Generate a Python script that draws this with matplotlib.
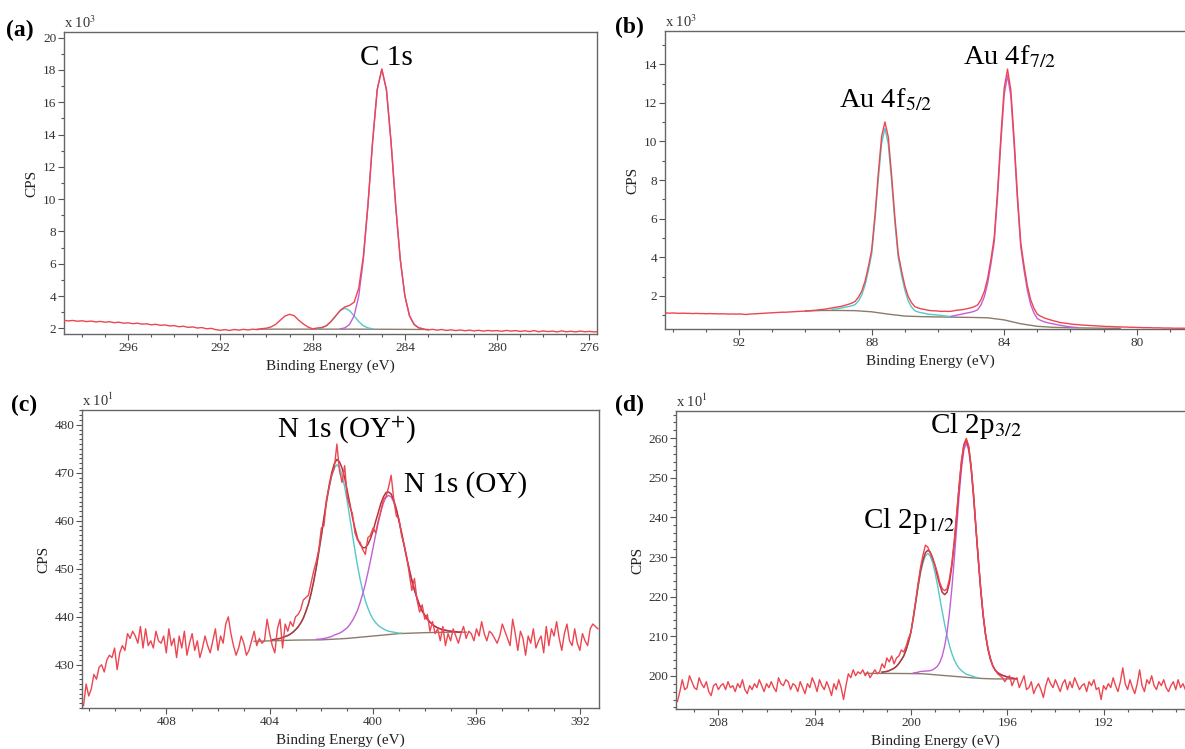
import matplotlib
matplotlib.use("Agg")
import matplotlib.pyplot as plt
import numpy as np
from matplotlib.ticker import MultipleLocator

plt.rcParams['font.family'] = ['Liberation Serif', 'DejaVu Serif']
plt.rcParams['mathtext.fontset'] = 'stix'

# colours used by the fitting software
RAW = '#ec4650'
ENV = '#b8323c'
CYAN = '#55c8c8'
MAG = '#c35fd6'
BGC = '#8c7b6b'

# ---------------- (a) C 1s  (x10^3 CPS), 0.2 eV steps ----------------
a_start, a_step = 298.8, 0.2
a_raw = [2.50, 2.46, 2.49, 2.44, 2.47, 2.42, 2.45, 2.40, 2.43, 2.38,
         2.41, 2.35, 2.38, 2.32, 2.34, 2.29, 2.32, 2.26, 2.28, 2.22,
         2.25, 2.19, 2.21, 2.15, 2.17, 2.10, 2.13, 2.06, 2.09, 2.02,
         2.05, 1.97, 2.00, 1.92, 1.88, 1.92, 1.87, 1.93, 1.89, 1.94,
         1.90, 1.95, 1.92, 1.98, 2.01, 2.09, 2.25, 2.51, 2.76, 2.87,
         2.78, 2.50, 2.27, 2.08, 1.97, 2.02, 2.05, 2.17, 2.43, 2.77,
         3.12, 3.33, 3.42, 3.62, 4.49, 6.47, 9.70, 13.56, 16.78, 18.05,
         16.78, 13.54, 9.62, 6.26, 4.01, 2.78, 2.24, 2.03, 1.96, 1.90,
         1.94, 1.89, 1.93, 1.87, 1.91, 1.86, 1.90, 1.85, 1.89, 1.84,
         1.88, 1.83, 1.87, 1.84, 1.86, 1.82, 1.87, 1.83, 1.86, 1.81,
         1.85, 1.80, 1.86, 1.79, 1.84, 1.80, 1.83, 1.78, 1.84, 1.79,
         1.82, 1.78, 1.83, 1.79, 1.81, 1.78, 1.80]
a_cyan_start = 287.8
a_cyan = [1.97, 2.03, 2.16, 2.42, 2.77, 3.10, 3.25, 3.10, 2.77, 2.42, 2.16, 2.03, 1.97]
a_mag_start = 286.8
a_mag = [1.97, 2.03, 2.24, 2.78, 4.01, 6.26, 9.62, 13.54, 16.78, 18.05,
         16.78, 13.54, 9.62, 6.26, 4.01, 2.78, 2.24, 2.03, 1.97]
a_bg_be = [290.4, 286.0, 283.0]
a_bg = [1.95, 1.95, 1.93]

# ---------------- (b) Au 4f  (x10^3 CPS), 0.1 eV steps ----------------
b_start, b_step = 94.2, 0.1
b_raw = [1.12, 1.11, 1.12, 1.11, 1.10, 1.11, 1.10, 1.10, 1.09, 1.10,
         1.09, 1.09, 1.08, 1.09, 1.08, 1.08, 1.07, 1.08, 1.07, 1.06,
         1.07, 1.06, 1.07, 1.06, 1.04, 1.06, 1.07, 1.08, 1.09, 1.10,
         1.11, 1.12, 1.13, 1.14, 1.15, 1.16, 1.16, 1.17, 1.18, 1.19,
         1.20, 1.21, 1.22, 1.23, 1.25, 1.26, 1.28, 1.30, 1.32, 1.35,
         1.38, 1.41, 1.44, 1.47, 1.52, 1.57, 1.63, 1.72, 1.94, 2.25,
         2.77, 3.52, 4.39, 6.21, 8.36, 10.27, 11.01, 10.23, 8.27, 6.07,
         4.21, 3.31, 2.53, 1.98, 1.66, 1.45, 1.38, 1.33, 1.30, 1.26,
         1.24, 1.23, 1.22, 1.20, 1.21, 1.20, 1.21, 1.24, 1.27, 1.28,
         1.31, 1.35, 1.39, 1.45, 1.54, 1.81, 2.23, 2.91, 3.90, 5.05,
         7.44, 10.27, 12.76, 13.75, 12.67, 10.11, 7.21, 4.76, 3.56, 2.52,
         1.80, 1.35, 1.06, 0.95, 0.87, 0.81, 0.76, 0.71, 0.67, 0.62,
         0.60, 0.58, 0.55, 0.53, 0.52, 0.50, 0.49, 0.48, 0.47, 0.46,
         0.45, 0.44, 0.43, 0.42, 0.42, 0.41, 0.40, 0.40, 0.39, 0.39,
         0.38, 0.38, 0.37, 0.37, 0.36, 0.36, 0.36, 0.35, 0.35, 0.35,
         0.34, 0.34, 0.34, 0.33, 0.33, 0.33, 0.33, 0.33]
b_cyan_start = 89.2
b_cyan = [1.30, 1.32, 1.35, 1.38, 1.42, 1.45, 1.49, 1.55, 1.74, 2.05,
          2.57, 3.31, 4.18, 5.96, 8.06, 9.91, 10.68, 9.87, 7.96, 5.81,
          3.99, 3.08, 2.31, 1.76, 1.43, 1.24, 1.17, 1.13, 1.10, 1.06,
          1.04, 1.03, 1.01, 0.99, 0.97, 0.95, 0.93, 0.92]
b_mag_start = 85.6
b_mag = [0.95, 0.98, 1.02, 1.05, 1.09, 1.125, 1.16, 1.21, 1.29, 1.54,
         1.96, 2.65, 3.65, 4.80, 7.17, 9.96, 12.42, 13.42, 12.34, 9.81,
         6.95, 4.52, 3.32, 2.28, 1.55, 1.11, 0.83, 0.735, 0.67, 0.62,
         0.58, 0.55, 0.51, 0.48, 0.45, 0.42, 0.40, 0.38, 0.37]
b_bg_be = [90.0, 89.5, 89.0, 88.5, 88.0, 87.5, 87.0, 86.5, 86.0, 85.5,
           85.0, 84.5, 84.0, 83.5, 83.0, 82.5, 82.0, 81.0, 80.5]
b_bg = [1.22, 1.25, 1.25, 1.24, 1.18, 1.06, 0.96, 0.93, 0.915, 0.90,
        0.89, 0.87, 0.76, 0.56, 0.43, 0.375, 0.355, 0.33, 0.325]

# ---------------- (c) N 1s  (x10^1 CPS), 0.1 eV steps ----------------
c_start, c_step = 411.2, 0.1
c_raw = [421.5, 426.0, 423.5, 425.0, 428.0, 427.0, 429.5, 430.0, 428.5, 431.0,
         432.0, 431.5, 433.5, 429.0, 432.5, 434.0, 433.0, 436.5, 435.5, 437.0,
         436.0, 434.5, 438.0, 433.5, 437.5, 434.0, 435.0, 433.5, 437.0, 435.0,
         434.5, 436.0, 432.5, 437.5, 434.0, 435.5, 431.5, 436.0, 433.5, 437.0,
         432.0, 434.5, 436.5, 433.0, 435.0, 431.5, 433.5, 436.0, 434.0, 432.5,
         435.0, 437.5, 433.0, 436.0, 434.5, 438.5, 440.0, 436.5, 434.0, 432.0,
         433.5, 436.0, 434.5, 432.0, 433.0, 435.0, 437.0, 434.0, 435.5, 434.5,
         435.0, 439.5, 436.5, 434.0, 432.5, 437.5, 439.5, 433.5, 438.5, 437.0,
         439.0, 438.0, 440.0, 440.5, 441.5, 443.5, 444.0, 444.5, 447.0, 449.5,
         451.5, 454.0, 458.5, 459.0, 464.5, 467.0, 469.5, 471.0, 476.0, 470.5,
         468.0, 471.5, 465.0, 463.0, 461.5, 457.5, 456.0, 455.5, 454.0, 453.0,
         456.5, 457.0, 458.5, 457.5, 460.0, 462.0, 464.5, 465.0, 467.0, 469.5,
         464.5, 461.0, 460.5, 457.0, 455.0, 452.5, 449.0, 445.5, 448.0, 443.5,
         441.0, 442.5, 439.5, 440.5, 437.0, 439.0, 436.5, 437.5, 435.0, 438.0,
         434.0, 436.5, 435.0, 437.5, 436.0, 434.5, 436.5, 438.0, 435.5, 437.0,
         436.5, 435.0, 437.5, 436.0, 439.0, 436.5, 435.0, 437.0, 436.5, 435.5,
         434.5, 436.0, 438.5, 437.0, 435.5, 434.0, 439.5, 436.5, 433.0, 437.0,
         435.5, 432.0, 436.0, 434.5, 437.5, 433.5, 435.0, 436.0, 432.5, 438.0,
         434.0, 437.5, 436.0, 439.0, 435.5, 433.0, 436.5, 438.5, 435.0, 434.0,
         437.5, 434.5, 433.0, 436.5, 435.0, 434.0, 437.5, 438.5, 438.0, 437.5]
c_env_start = 403.9
c_env = [435.2, 435.3, 435.4, 435.5, 435.7, 435.9, 436.1, 436.4, 436.8, 437.3,
         437.9, 438.7, 439.7, 441.1, 442.7, 444.8, 447.3, 450.2, 453.6, 457.0,
         460.7, 464.2, 467.4, 470.0, 471.9, 472.8, 472.3, 471.0, 469.0, 466.3,
         463.6, 460.8, 458.4, 456.3, 455.1, 454.4, 454.4, 455.1, 456.3, 457.9,
         459.9, 461.7, 463.6, 465.0, 465.9, 466.0, 465.6, 464.3, 462.5, 460.1,
         457.6, 455.0, 452.3, 449.9, 447.6, 445.6, 443.9, 442.4, 441.2, 440.3,
         439.5, 438.9, 438.4, 438.0, 437.7, 437.5, 437.3, 437.2, 437.1, 437.0,
         436.9, 436.9, 436.8, 436.8]
c_cyan_start = 403.9
c_cyan = [435.2, 435.3, 435.4, 435.5, 435.7, 435.9, 436.1, 436.4, 436.8, 437.3,
          437.9, 438.7, 439.7, 441.1, 442.7, 444.8, 447.3, 450.1, 453.4, 456.8,
          460.4, 463.8, 466.9, 469.4, 471.0, 471.7, 471.1, 469.5, 467.1, 464.1,
          460.7, 457.2, 453.8, 450.6, 447.8, 445.4, 443.4, 441.8, 440.5, 439.5,
          438.8, 438.2, 437.8, 437.5, 437.2, 437.0, 436.9, 436.8, 436.7, 436.6,
          436.6]
c_mag_start = 402.2
c_mag = [435.3, 435.35, 435.4, 435.5, 435.6, 435.75, 435.9, 436.2, 436.4, 436.6,
         436.9, 437.3, 437.7, 438.4, 439.2, 440.2, 441.4, 443.0, 444.8, 446.8,
         449.2, 451.7, 454.4, 457.1, 459.6, 461.9, 463.7, 464.9, 465.3, 465.0,
         463.9, 462.2, 460.0, 457.5, 454.9, 452.3, 449.9, 447.6, 445.6, 443.9,
         442.4, 441.2, 440.3, 439.5, 438.9, 438.4, 438.0, 437.7, 437.5, 437.3,
         437.2, 437.1, 437.0, 436.9, 436.9, 436.8, 436.8]
c_bg_be = [404.6, 403.0, 402.0, 401.0, 400.0, 399.0, 398.0, 397.0, 396.4]
c_bg = [434.9, 435.15, 435.2, 435.5, 436.0, 436.5, 436.7, 436.8, 436.8]

# ---------------- (d) Cl 2p  (x10^1 CPS), 0.1 eV steps ----------------
d_start, d_step = 209.7, 0.1
d_raw = [193.5, 196.0, 199.0, 196.5, 197.0, 200.0, 198.5, 197.0, 196.5, 199.5,
         198.0, 197.0, 198.5, 196.0, 195.0, 197.5, 198.0, 196.5, 197.5, 198.0,
         196.5, 198.5, 197.0, 197.5, 196.0, 198.0, 197.0, 199.0, 196.5, 195.5,
         197.5, 196.5, 198.0, 197.0, 199.0, 197.5, 196.0, 198.0, 197.0, 198.5,
         197.0, 196.0, 199.5, 198.0, 197.5, 199.0, 198.5, 196.5, 198.0, 197.5,
         196.0, 198.5, 197.0, 195.5, 198.0, 197.0, 199.5, 198.0, 196.0, 199.0,
         197.5, 196.5, 198.5, 197.0, 195.0, 198.0, 196.5, 199.0, 197.0, 194.0,
         197.5, 200.5, 199.5, 201.5, 200.0, 201.0, 200.5, 201.5, 200.0, 201.0,
         199.5, 200.5, 201.5, 200.5, 201.0, 203.0, 202.0, 204.5, 203.5, 205.0,
         203.0, 204.5, 205.0, 206.5, 206.0, 207.5, 209.5, 211.0, 215.0, 219.0,
         223.5, 227.5, 230.5, 233.0, 232.5, 231.0, 229.5, 228.0, 226.0, 223.5,
         222.0, 221.5, 222.0, 224.5, 228.5, 234.0, 241.0, 248.0, 254.5, 258.5,
         260.0, 258.0, 253.0, 246.0, 237.5, 229.5, 222.0, 215.5, 210.5, 207.0,
         204.5, 202.5, 201.5, 200.5, 200.0, 199.5, 198.5, 199.5, 200.0, 197.5,
         199.0, 199.5, 197.0, 198.5, 200.0, 196.5, 197.0, 198.5, 195.5, 197.0,
         198.0, 196.5, 194.5, 197.5, 199.5, 198.0, 197.0, 199.0, 197.5, 196.0,
         198.0, 199.0, 196.5, 198.5, 197.0, 199.5, 198.0, 196.5, 197.5, 198.0,
         196.0, 198.5, 197.5, 199.0, 196.5, 197.0, 194.0, 197.5, 196.5, 198.0,
         197.0, 199.5, 197.5, 196.0, 198.5, 202.0, 198.0, 196.5, 199.0, 197.0,
         195.5, 198.0, 201.5, 197.5, 196.0, 199.0, 198.0, 200.0, 197.5, 196.5,
         198.5, 197.5, 199.0, 197.0, 196.0, 197.5, 198.5, 196.5, 199.0, 197.0,
         198.0, 196.5, 198.0]
d_env_start = 201.2
d_env = [200.9, 201.0, 201.1, 201.3, 201.6, 201.9, 202.4, 203.1, 204.0, 205.0,
         206.6, 208.6, 211.1, 214.7, 218.8, 222.9, 226.6, 229.2, 231.1, 231.7,
         231.3, 229.8, 227.8, 225.2, 222.9, 221.1, 220.5, 221.1, 223.6, 227.8,
         233.7, 240.5, 247.7, 254.0, 258.3, 259.6, 257.7, 252.7, 245.6, 237.3,
         229.2, 221.6, 215.2, 210.3, 206.7, 204.2, 202.5, 201.4, 200.8, 200.4,
         200.1, 199.9, 199.7, 199.5, 199.4, 199.3, 199.2]
d_cyan_start = 201.2
d_cyan = [200.9, 201.0, 201.1, 201.3, 201.6, 201.9, 202.4, 203.1, 204.0, 205.0,
          206.5, 208.5, 211.0, 214.5, 218.5, 222.5, 226.0, 228.6, 230.3, 230.9,
          230.3, 228.6, 226.1, 223.0, 219.6, 216.2, 213.0, 210.1, 207.6, 205.6,
          204.0, 202.8, 201.9, 201.3, 200.8, 200.4, 200.2, 200.0, 199.8, 199.6,
          199.5]
d_mag_start = 199.9
d_mag = [200.7, 200.8, 200.9, 201.1, 201.1, 201.2, 201.2, 201.3, 201.5, 201.9,
         202.4, 203.4, 205.0, 207.5, 211.0, 215.9, 222.1, 229.5, 237.5, 245.5,
         252.4, 257.1, 258.8, 257.0, 252.2, 245.2, 237.1, 229.0, 221.5, 215.2,
         210.3, 206.7, 204.2, 202.5, 201.4, 200.8, 200.4, 200.1, 199.9, 199.7,
         199.5, 199.4, 199.3, 199.2]
d_bg_be = [201.9, 201.0, 200.0, 199.5, 199.0, 198.5, 198.0, 197.5, 197.0, 196.5, 195.6]
d_bg = [200.6, 200.6, 200.55, 200.5, 200.25, 200.0, 199.75, 199.5, 199.3, 199.2, 199.2]


def grid(start, step, vals):
    return start - step * np.arange(len(vals))


W, H = 1185, 749
fig = plt.figure(figsize=(W / 100, H / 100), dpi=100)


def panel(x0, y0, x1, y1):
    return fig.add_axes([x0 / W, 1 - y1 / H, (x1 - x0) / W, (y1 - y0) / H])


def style(ax, xlim, ylim, ymaj, ymin, mult, ylab_dx):
    ax.set_xlim(*xlim)
    ax.set_ylim(*ylim)
    ax.xaxis.set_major_locator(MultipleLocator(4))
    ax.xaxis.set_minor_locator(MultipleLocator(1))
    ax.yaxis.set_major_locator(MultipleLocator(ymaj))
    ax.yaxis.set_minor_locator(MultipleLocator(ymin))
    ax.tick_params(which='both', direction='out', color='#555555',
                   labelcolor='#333333', labelsize=9.5, width=0.8, pad=1.5)
    ax.tick_params(which='major', length=4)
    ax.tick_params(which='minor', length=2.5)
    for s in ax.spines.values():
        s.set_color('#666666')
        s.set_linewidth(1.0)
    h = ax.get_position().height * H
    w = ax.get_position().width * W
    ax.set_xlabel('Binding Energy (eV)', fontsize=11, color='#222222')
    ax.xaxis.set_label_coords(0.5, -26 / h)
    ax.set_ylabel('CPS', fontsize=11, color='#222222')
    ax.yaxis.set_label_coords(ylab_dx / w, 0.5)
    ax.text(0, 1.004, mult, transform=ax.transAxes, ha='left', va='bottom',
            fontsize=10.5, color='#333333')


def draw(ax, start, step, raw, comps, bg_be, bg, env=None):
    ax.plot(bg_be, bg, color=BGC, lw=1.0, zorder=2)
    for (s, vals), col in zip(comps, [CYAN, MAG]):
        ax.plot(grid(s, step, vals), vals, color=col, lw=1.0, zorder=3)
    if env is not None:
        ax.plot(grid(env[0], step, env[1]), env[1], color=ENV, lw=1.1, zorder=4)
    ax.plot(grid(start, step, raw), raw, color=RAW, lw=1.0, zorder=5)


# (a)
ax = panel(64, 32, 597, 334)
draw(ax, a_start, a_step, a_raw, [(a_cyan_start, a_cyan), (a_mag_start, a_mag)],
     a_bg_be, a_bg)
style(ax, (298.78, 275.67), (1.65, 20.35), 2, 1, 'x 10$^3$', -26)
ax.text(284.8, 18.3, 'C 1s', fontsize=21, ha='center', va='baseline')

# (b)
ax = panel(665, 31, 1195, 329)
draw(ax, b_start, b_step, b_raw, [(b_cyan_start, b_cyan), (b_mag_start, b_mag)],
     b_bg_be, b_bg)
style(ax, (94.24, 78.24), (0.29, 15.72), 2, 1, 'x 10$^3$', -25.5)
ax.text(85.23, 14.0, 'Au 4f$_{7/2}$', fontsize=20.5, ha='left', va='baseline')
ax.text(89.0, 11.77, 'Au 4f$_{5/2}$', fontsize=20.5, ha='left', va='baseline')

# (c)
ax = panel(82, 410, 599, 708)
draw(ax, c_start, c_step, c_raw, [(c_cyan_start, c_cyan), (c_mag_start, c_mag)],
     c_bg_be, c_bg, env=(c_env_start, c_env))
style(ax, (411.26, 391.26), (421.0, 483.1), 10, 1, 'x 10$^1$', -32)
ax.text(403.72, 477.4, 'N 1s (OY$^{+}$)', fontsize=21, ha='left', va='baseline')
ax.text(398.82, 466.0, 'N 1s (OY)', fontsize=21, ha='left', va='baseline')

# (d)
ax = panel(676, 411, 1195, 709)
draw(ax, d_start, d_step, d_raw, [(d_cyan_start, d_cyan), (d_mag_start, d_mag)],
     d_bg_be, d_bg, env=(d_env_start, d_env))
style(ax, (209.76, 188.2), (191.6, 266.9), 10, 2, 'x 10$^1$', -31.5)
ax.text(199.2, 261.3, 'Cl 2p$_{3/2}$', fontsize=21, ha='left', va='baseline')
ax.text(201.99, 237.3, 'Cl 2p$_{1/2}$', fontsize=21, ha='left', va='baseline')

# panel letters
for lab, (px, py) in zip(['(a)', '(b)', '(c)', '(d)'],
                         [(20, 30), (629, 27), (24, 405), (629, 405)]):
    fig.text(px / W, 1 - py / H, lab, fontsize=17, fontweight='bold',
             ha='center', va='center')

fig.savefig('out.png', dpi=100)
